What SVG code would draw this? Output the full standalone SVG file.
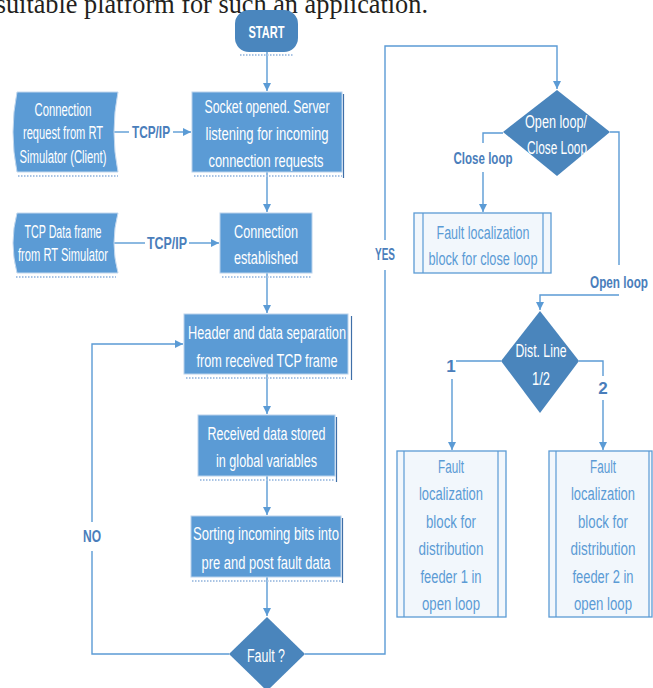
<svg xmlns="http://www.w3.org/2000/svg" width="653" height="688" viewBox="0 0 653 688">
<style>
.bg{fill:#ffffff}
.proc{fill:#5b9bd5;stroke:#b9d2ec;stroke-width:1}
.shd{fill:none;stroke:#3f6fa8;stroke-width:1.2}
.dots{fill:none;stroke:#a9c4e4;stroke-width:2;stroke-dasharray:1.5 1.5}
.dia{fill:#4a85bc}
.store{fill:#5b9bd5;stroke:#c3d8ee;stroke-width:1}
.pre{fill:#f2f7fc;stroke:#5b9bd5;stroke-width:1.3}
.preline{fill:none;stroke:#5b9bd5;stroke-width:1.2}
.wt{font-family:"Liberation Sans",Arial,sans-serif;font-size:17.5px;fill:#ffffff;text-anchor:middle}
.bt{font-family:"Liberation Sans",Arial,sans-serif;font-size:18px;fill:#5b9bd5;text-anchor:middle}
.lbl{font-family:"Liberation Sans",Arial,sans-serif;font-size:17px;font-weight:bold;fill:#4a7ebb;text-anchor:middle}
.con{fill:none;stroke:#5b9bd5;stroke-width:1.4}
</style>
<defs>
<marker id="arr" viewBox="0 0 10 10" refX="10" refY="5" markerWidth="8" markerHeight="8" markerUnits="userSpaceOnUse" orient="auto">
<path d="M0,0 L10,5 L0,10 Z" fill="#5b9bd5"/>
</marker>
</defs>
<rect class="bg" x="0" y="0" width="653" height="688"/>

<text x="428" y="13" font-family="'Liberation Serif','Times New Roman',serif" font-size="26.3" fill="#231f20" text-anchor="end">suitable platform for such an application.</text>

<g id="connectors">
<path class="con" d="M267,52 V91" marker-end="url(#arr)"/>
<path class="con" d="M113,132 H129"/>
<path class="con" d="M173,132 H191" marker-end="url(#arr)"/>
<path class="con" d="M267,172 V212" marker-end="url(#arr)"/>
<path class="con" d="M113,243 H145"/>
<path class="con" d="M189,243 H219" marker-end="url(#arr)"/>
<path class="con" d="M267,273 V313" marker-end="url(#arr)"/>
<path class="con" d="M267,374 V414" marker-end="url(#arr)"/>
<path class="con" d="M267,476 V515" marker-end="url(#arr)"/>
<path class="con" d="M267,577 V616" marker-end="url(#arr)"/>
<path class="con" d="M229,654 H92 V551"/>
<path class="con" d="M92,522 V344 H183" marker-end="url(#arr)"/>
<path class="con" d="M305,654 H385 V270"/>
<path class="con" d="M385,240 V46 H557 V89" marker-end="url(#arr)"/>
<path class="con" d="M503,133 H483 V143"/>
<path class="con" d="M483,172 V212" marker-end="url(#arr)"/>
<path class="con" d="M610,132 H619 V265"/>
<path class="con" d="M619,295 H540 V310" marker-end="url(#arr)"/>
<path class="con" d="M501,361 H456"/>
<path class="con" d="M452,379 V450" marker-end="url(#arr)"/>
<path class="con" d="M579,361 H603 V376"/>
<path class="con" d="M603,400 V450" marker-end="url(#arr)"/>
<text class="lbl" x="151" y="138" textLength="38" lengthAdjust="spacingAndGlyphs">TCP/IP</text>
<text class="lbl" x="167" y="249" textLength="40" lengthAdjust="spacingAndGlyphs">TCP/IP</text>
<text class="lbl" x="92" y="542" textLength="18" lengthAdjust="spacingAndGlyphs">NO</text>
<text class="lbl" x="385" y="260" textLength="20" lengthAdjust="spacingAndGlyphs">YES</text>
<text class="lbl" x="483" y="164" textLength="59" lengthAdjust="spacingAndGlyphs">Close loop</text>
<text class="lbl" x="619" y="288" textLength="58" lengthAdjust="spacingAndGlyphs">Open loop</text>
<text class="lbl" x="451" y="372">1</text>
<text class="lbl" x="603" y="394">2</text>
</g>

<g id="start">
<rect x="235" y="10" width="63" height="42" rx="14" ry="14" fill="#4a86be"/>
<path class="dots" d="M240,55 H293"/>
<text x="266.5" y="38" font-family="'Liberation Sans',Arial,sans-serif" font-size="17" font-weight="bold" fill="#ffffff" text-anchor="middle" textLength="36" lengthAdjust="spacingAndGlyphs">START</text>
</g>

<g id="socket">
<rect class="proc" x="192" y="92" width="150" height="80"/>
<path class="shd" d="M343.5,94 V178"/>
<path class="dots" d="M194,176 H342"/>
<text class="wt" x="267" y="112.5" textLength="125" lengthAdjust="spacingAndGlyphs">Socket opened. Server</text>
<text class="wt" x="267" y="139.5" textLength="123" lengthAdjust="spacingAndGlyphs">listening for incoming</text>
<text class="wt" x="266" y="166.5" textLength="115" lengthAdjust="spacingAndGlyphs">connection requests</text>
</g>

<g id="conn-request">
<path class="store" d="M17,92 H118 Q110,132 118,172 H17 Q9,132 17,92 Z"/>
<path class="dots" d="M18,176 H118"/>
<text class="wt" font-size="16.5" x="63" y="116" textLength="57" lengthAdjust="spacingAndGlyphs">Connection</text>
<text class="wt" font-size="16.5" x="63" y="139" textLength="80" lengthAdjust="spacingAndGlyphs">request from RT</text>
<text class="wt" font-size="16.5" x="63" y="163" textLength="87" lengthAdjust="spacingAndGlyphs">Simulator (Client)</text>
</g>

<g id="conn-established">
<rect class="proc" x="220" y="213" width="92" height="60"/>
<path class="dots" d="M222,277 H312"/>
<text class="wt" font-size="18.5" x="266" y="237.5" textLength="64" lengthAdjust="spacingAndGlyphs">Connection</text>
<text class="wt" font-size="18.5" x="266" y="263.5" textLength="64" lengthAdjust="spacingAndGlyphs">established</text>
</g>

<g id="data-frame">
<path class="store" d="M17,213 H118 Q110,243 118,273 H17 Q9,243 17,213 Z"/>
<path class="dots" d="M16,277 H116"/>
<text class="wt" font-size="16.5" x="63" y="238" textLength="77" lengthAdjust="spacingAndGlyphs">TCP Data frame</text>
<text class="wt" font-size="16.5" x="63" y="261" textLength="90" lengthAdjust="spacingAndGlyphs">from RT Simulator</text>
</g>

<g id="header-sep">
<rect class="proc" x="184" y="314" width="164" height="60"/>
<path class="shd" d="M351.5,316 V380"/>
<path class="dots" d="M186,378 H346"/>
<text class="wt" x="267" y="338.5" textLength="158" lengthAdjust="spacingAndGlyphs">Header and data separation</text>
<text class="wt" x="267" y="366.5" textLength="141" lengthAdjust="spacingAndGlyphs">from received TCP frame</text>
</g>

<g id="received">
<rect class="proc" x="198" y="415" width="137" height="61"/>
<path class="shd" d="M336.5,417 V482"/>
<path class="dots" d="M200,480 H334"/>
<text class="wt" x="266.5" y="439.5" textLength="118" lengthAdjust="spacingAndGlyphs">Received data stored</text>
<text class="wt" x="266.5" y="466.5" textLength="101" lengthAdjust="spacingAndGlyphs">in global variables</text>
</g>

<g id="sorting">
<rect class="proc" x="191" y="516" width="150" height="61"/>
<path class="shd" d="M342.5,518 V583"/>
<path class="dots" d="M192,581 H342"/>
<text class="wt" x="266" y="539.5" textLength="146" lengthAdjust="spacingAndGlyphs">Sorting incoming bits into</text>
<text class="wt" x="266" y="568.5" textLength="129" lengthAdjust="spacingAndGlyphs">pre and post fault data</text>
</g>

<g id="fault">
<polygon class="dia" points="267,617 305,654 267,691 229,654"/>
<text class="wt" font-size="18" x="266" y="661.5" textLength="38" lengthAdjust="spacingAndGlyphs">Fault ?</text>
</g>

<g id="open-close">
<polygon class="dia" points="557,90 610,132 557,176 503,132"/>
<text class="wt" x="556" y="127.5" textLength="62" lengthAdjust="spacingAndGlyphs">Open loop/</text>
<text class="wt" x="557" y="153.5" textLength="60" lengthAdjust="spacingAndGlyphs">Close Loop</text>
</g>

<g id="close-block">
<rect class="pre" x="414" y="213" width="137" height="60"/>
<path class="preline" d="M423,213 V273 M543,213 V273"/>
<text class="bt" font-size="17.5" x="483" y="238.5" textLength="93" lengthAdjust="spacingAndGlyphs">Fault localization</text>
<text class="bt" font-size="17.5" x="483" y="264.5" textLength="109" lengthAdjust="spacingAndGlyphs">block for close loop</text>
</g>

<g id="dist-line">
<polygon class="dia" points="540,311 579,361 540,413 501,361"/>
<text class="wt" x="541" y="356.5" textLength="51" lengthAdjust="spacingAndGlyphs">Dist. Line</text>
<text class="wt" x="541" y="384.5" textLength="18" lengthAdjust="spacingAndGlyphs">1/2</text>
</g>

<g id="feeder1">
<rect class="pre" x="397" y="451" width="109" height="166"/>
<path class="preline" d="M404,451 V617 M498,451 V617"/>
<text class="bt" x="451" y="472.5" textLength="26" lengthAdjust="spacingAndGlyphs">Fault</text>
<text class="bt" x="451" y="499.5" textLength="64" lengthAdjust="spacingAndGlyphs">localization</text>
<text class="bt" x="451" y="527.5" textLength="50" lengthAdjust="spacingAndGlyphs">block for</text>
<text class="bt" x="451" y="554.5" textLength="65" lengthAdjust="spacingAndGlyphs">distribution</text>
<text class="bt" x="451" y="582.5" textLength="61" lengthAdjust="spacingAndGlyphs">feeder 1 in</text>
<text class="bt" x="451" y="609.5" textLength="58" lengthAdjust="spacingAndGlyphs">open loop</text>
</g>

<g id="feeder2">
<rect class="pre" x="549" y="451" width="103" height="166"/>
<path class="preline" d="M556,451 V617 M649,451 V617"/>
<text class="bt" x="603" y="472.5" textLength="26" lengthAdjust="spacingAndGlyphs">Fault</text>
<text class="bt" x="603" y="499.5" textLength="64" lengthAdjust="spacingAndGlyphs">localization</text>
<text class="bt" x="603" y="527.5" textLength="50" lengthAdjust="spacingAndGlyphs">block for</text>
<text class="bt" x="603" y="554.5" textLength="65" lengthAdjust="spacingAndGlyphs">distribution</text>
<text class="bt" x="603" y="582.5" textLength="61" lengthAdjust="spacingAndGlyphs">feeder 2 in</text>
<text class="bt" x="603" y="609.5" textLength="58" lengthAdjust="spacingAndGlyphs">open loop</text>
</g>
</svg>
